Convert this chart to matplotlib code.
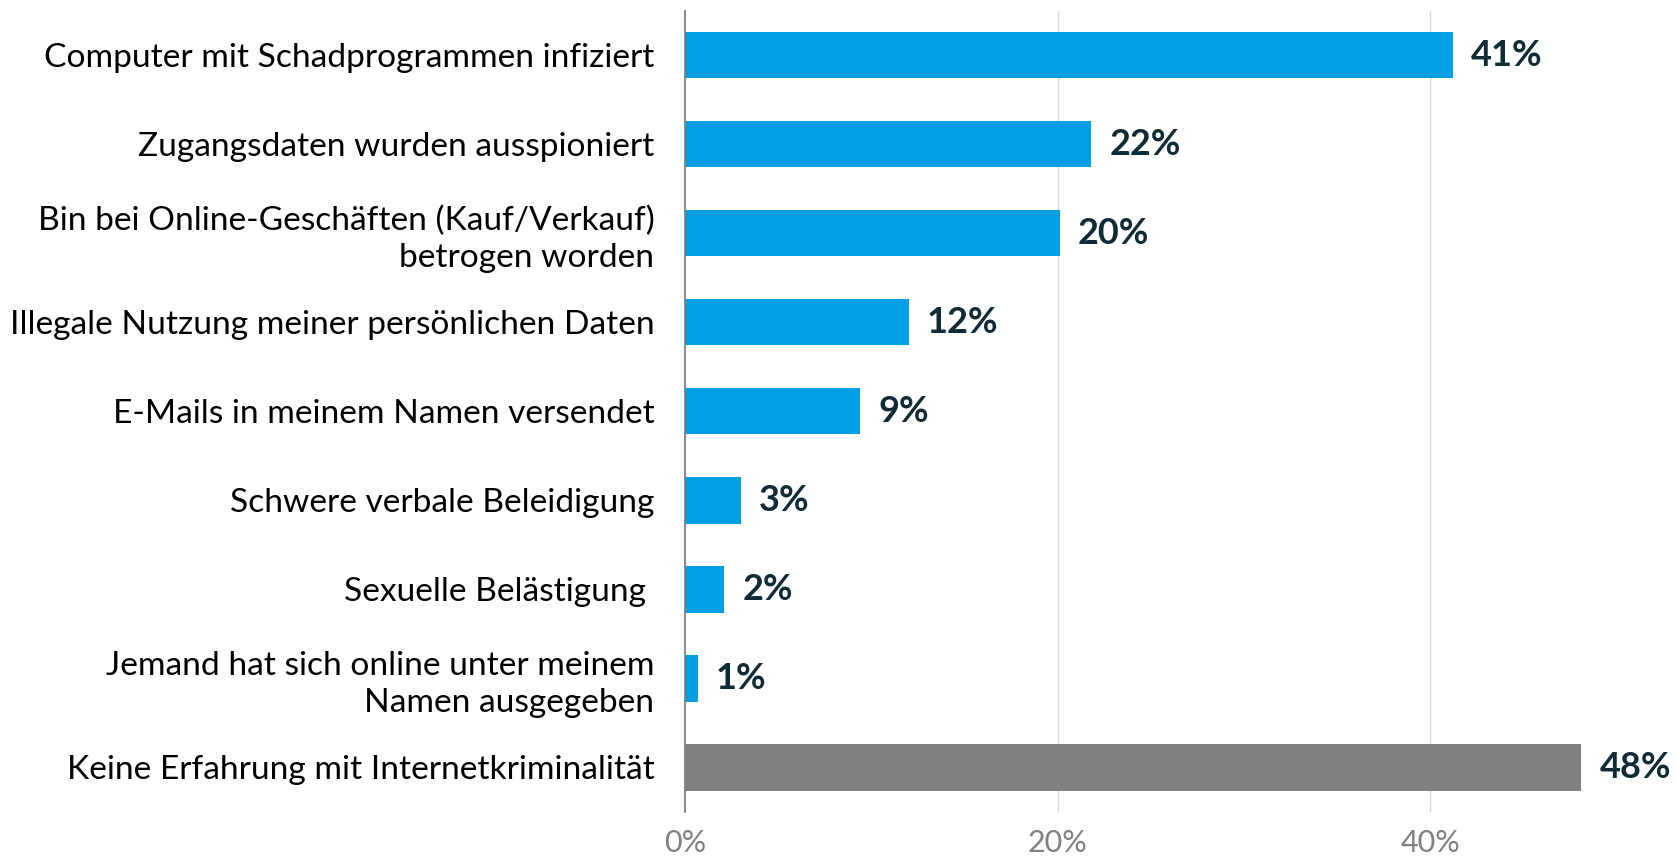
import matplotlib.pyplot as plt
import numpy as np

categories = [
    "Computer mit Schadprogrammen infiziert",
    "Zugangsdaten wurden ausspioniert",
    "Bin bei Online-Geschäften (Kauf/Verkauf)\nbetrogen worden",
    "Illegale Nutzung meiner persönlichen Daten",
    "E-Mails in meinem Namen versendet",
    "Schwere verbale Beleidigung",
    "Sexuelle Belästigung ",
    "Jemand hat sich online unter meinem\nNamen ausgegeben",
    "Keine Erfahrung mit Internetkriminalität",
]
values = [41.2, 21.8, 20.1, 12.0, 9.4, 3.0, 2.1, 0.7, 48.1]
value_labels = ["41%", "22%", "20%", "12%", "9%", "3%", "2%", "1%", "48%"]
xticks = [0, 20, 40]
xtick_labels = ["0%", "20%", "40%"]

blue = "#009fe3"
grey = "#808080"
dark = "#0f2b35"

plt.rcParams['font.family'] = ['Lato', 'DejaVu Sans']

fig = plt.figure(figsize=(16.76, 8.58), dpi=100)
ax = fig.add_axes([0.4087, 0.0536, 0.556, 0.934])

y = np.arange(len(categories))
colors = [blue] * (len(categories) - 1) + [grey]
ax.barh(y, values, height=0.52, color=colors, zorder=3)

for yi, v, lab in zip(y, values, value_labels):
    ax.annotate(lab, (v, yi), xytext=(13, 0), textcoords='offset points',
                va='center', ha='left', fontsize=26, fontweight='bold',
                color=dark, annotation_clip=False)

ax.set_ylim(len(categories) - 0.5, -0.5)
ax.set_xlim(0, 50)
ax.set_yticks(y)
ax.set_yticklabels(categories, fontsize=24.1, color='black', linespacing=1.28)
ax.set_xticks(xticks)
ax.set_xticklabels(xtick_labels, fontsize=22, color=grey)
ax.tick_params(axis='y', length=0, pad=22)
ax.tick_params(axis='x', length=0, pad=12)

ax.grid(axis='x', color='#d9d9d9', linewidth=1, zorder=0)
for s in ['top', 'right', 'bottom']:
    ax.spines[s].set_visible(False)
ax.spines['left'].set_color(grey)
ax.spines['left'].set_linewidth(1.3)
ax.spines['left'].set_zorder(4)

fig.savefig("out.png", dpi=100)
